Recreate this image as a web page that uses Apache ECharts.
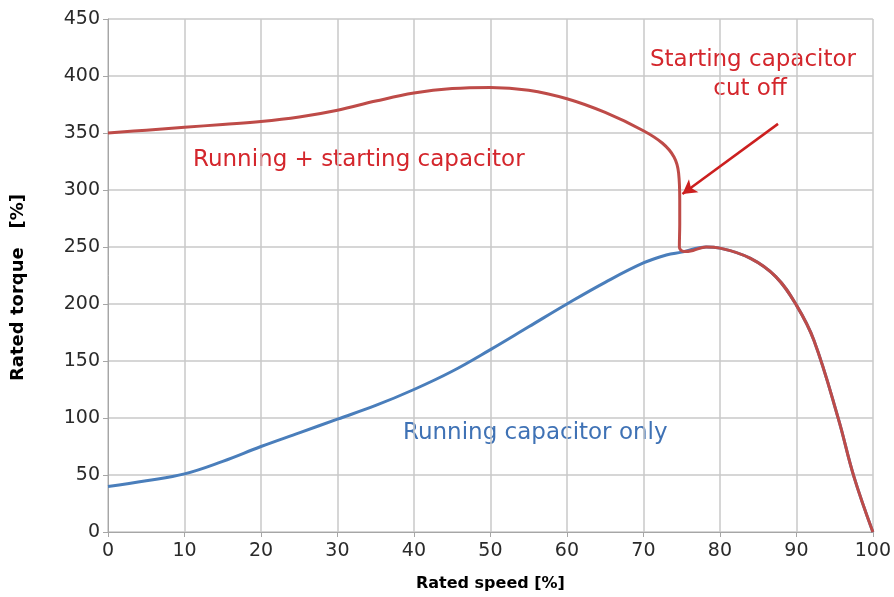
<!DOCTYPE html>
<html><head><meta charset="utf-8">
<script src="https://cdn.jsdelivr.net/npm/echarts@6/dist/echarts.min.js"></script>
<style>html,body{margin:0;padding:0;background:#fff}#c{width:894px;height:597px}</style>
</head><body><div id="c"></div>
<script>
const runStartX = [0,5,10,15,20,25,30,35,40,45,50,55,60,65,70,72.5,74,74.6,74.75,74.75,74.7,75.3,76.5,78.2,80,84,87.3,90,92.3,95.5,97.5,100];
const runStartY = [350,352.5,355,357.5,360,364,370,378,385,389,390,387.5,380,368,352,341,329,315,291,270,250,246,247,250,249,240,224,199,168,99,49,0];
const runOnlyX = [0,5,10,15,20,25,30,35,40,45,50,55,60,65,70,73,75,78.2,80,84,87.3,90,92.3,95.5,97.5,100];
const runOnlyY = [40,45,51,62,75,87,99,111,125,141,160,180,200,219,236,243,245.5,250,249,240,224,199,168,99,49,0];
const xTicks = {min:0,max:100,interval:10};
const yTicks = {min:0,max:450,interval:50};
const arrowFrom = [87.6,358];
const arrowTo = [75.1,296.5];

const zip = (xs,ys)=>xs.map((x,i)=>[x,ys[i]]);
const font = '"DejaVu Sans", sans-serif';
const chart = echarts.init(document.getElementById('c'));
chart.setOption({
  animation:false,
  grid:{left:108,right:20,top:19,bottom:65},
  xAxis:{type:'value',min:xTicks.min,max:xTicks.max,interval:xTicks.interval,
    name:'Rated speed [%]',nameLocation:'middle',nameGap:44,
    nameTextStyle:{fontFamily:font,fontWeight:'bold',fontSize:16,color:'#000'},
    axisLine:{show:true,lineStyle:{color:'#a6a6a6',width:1}},
    axisTick:{show:true,length:5,lineStyle:{color:'#a6a6a6'}},
    axisLabel:{fontFamily:font,fontSize:19,color:'#2a2a2a',margin:10},
    splitLine:{show:true,lineStyle:{color:'#c8c8c8',width:1.5}}},
  yAxis:{type:'value',min:yTicks.min,max:yTicks.max,interval:yTicks.interval,
    name:'Rated torque   [%]',nameLocation:'middle',nameGap:81,
    nameTextStyle:{fontFamily:font,fontWeight:'bold',fontSize:18,color:'#000',padding:[0,24,0,0]},
    axisLine:{show:true,lineStyle:{color:'#a6a6a6',width:1}},
    axisTick:{show:true,length:5,lineStyle:{color:'#a6a6a6'}},
    axisLabel:{fontFamily:font,fontSize:19,color:'#2a2a2a',margin:8},
    splitLine:{show:true,lineStyle:{color:'#c8c8c8',width:1.5}}},
  series:[
    {type:'line',data:zip(runOnlyX,runOnlyY),smooth:0.4,showSymbol:false,
      lineStyle:{color:'#4a7ebb',width:3},z:2},
    {type:'line',data:zip(runStartX,runStartY),smooth:0.4,showSymbol:false,
      lineStyle:{color:'#be4b48',width:3},z:3,
      markLine:{silent:true,symbol:['none','arrow'],symbolSize:[12,14],
        lineStyle:{color:'#cc1f1f',width:2.5,type:'solid'},label:{show:false},
        data:[[{coord:arrowFrom},{coord:arrowTo}]]}}
  ],
  graphic:[
    {type:'text',x:753,y:60,style:{text:'Starting capacitor',fill:'#d4262c',font:'23px '+font,textAlign:'center',textVerticalAlign:'middle'}},
    {type:'text',x:750,y:89,style:{text:'cut off',fill:'#d4262c',font:'23px '+font,textAlign:'center',textVerticalAlign:'middle'}},
    {type:'text',x:193,y:160,style:{text:'Running + starting capacitor',fill:'#d4262c',font:'23px '+font,textAlign:'left',textVerticalAlign:'middle'}},
    {type:'text',x:403,y:433,style:{text:'Running capacitor only',fill:'#3f72b5',font:'23px '+font,textAlign:'left',textVerticalAlign:'middle'}}
  ]
});
</script></body></html>
